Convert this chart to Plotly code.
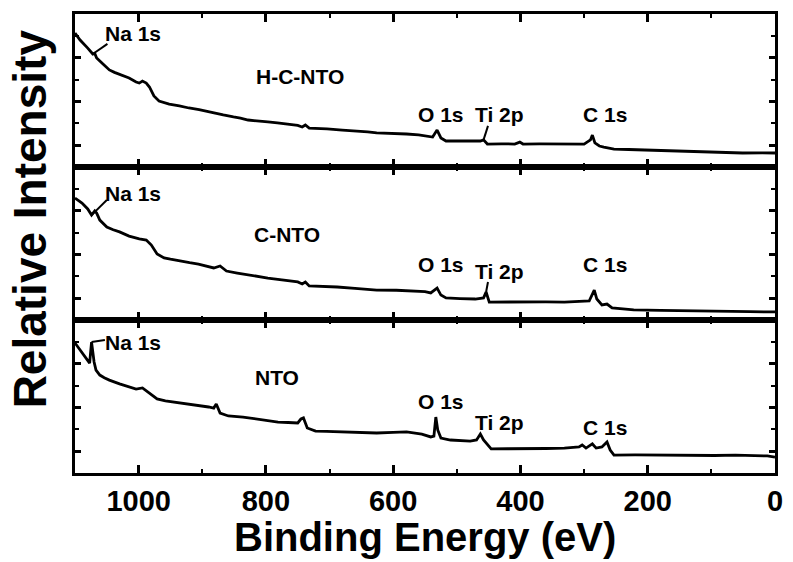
import plotly.graph_objects as go

# ---------------- data ----------------
ev_hcnto = [1100, 1092, 1080, 1072, 1069, 1066, 1056, 1046, 1038, 1030, 1022, 1015, 1004, 999, 994, 988,
            983, 976, 968, 960, 952, 936, 921, 905, 890, 877, 867, 851, 840, 828, 812, 797, 782, 766, 750,
            743, 738, 732, 718, 704, 680, 657, 640, 626, 600, 579, 560, 548, 538, 531, 525, 517, 500, 486,
            463, 458, 452, 430, 409, 401, 396, 370, 346, 320, 300, 290, 287, 283, 276, 269, 253, 230, 207,
            170, 129, 90, 51, 20, 0]
int_hcnto = [6.13, 5.81, 5.44, 5.17, 5.20, 4.99, 4.71, 4.44, 4.33, 4.25, 4.14, 4.07, 3.89, 3.84, 3.93, 3.84,
             3.66, 3.25, 3.02, 2.95, 2.88, 2.80, 2.70, 2.63, 2.52, 2.45, 2.38, 2.29, 2.24, 2.15, 2.12, 2.06,
             2.02, 1.97, 1.90, 1.83, 1.92, 1.78, 1.77, 1.74, 1.69, 1.65, 1.61, 1.56, 1.55, 1.51, 1.47, 1.42,
             1.37, 1.69, 1.33, 1.19, 1.20, 1.19, 1.19, 1.24, 1.05, 1.06, 1.05, 1.14, 1.05, 1.06, 1.05, 1.04,
             1.05, 1.24, 1.46, 1.10, 0.96, 0.91, 0.82, 0.80, 0.78, 0.74, 0.69, 0.67, 0.64, 0.65, 0.64]

ev_cnto = [1100, 1089, 1080, 1074, 1069, 1066, 1061, 1050, 1040, 1030, 1015, 999, 988, 980, 971, 960,
           950, 937, 920, 906, 890, 882, 872, 862, 845, 828, 812, 797, 775, 750, 743, 738, 732, 710, 688,
           660, 626, 595, 564, 550, 541, 531, 525, 517, 495, 471, 458, 454, 449, 420, 393, 360, 331, 300,
           292, 284, 280, 272, 264, 256, 240, 222, 180, 129, 80, 40, 0]
int_cnto = [5.58, 5.35, 5.08, 4.80, 4.99, 4.89, 4.57, 4.25, 4.13, 4.03, 3.84, 3.71, 3.66, 3.43, 3.02, 2.84,
            2.78, 2.70, 2.62, 2.56, 2.45, 2.38, 2.47, 2.24, 2.15, 2.06, 1.99, 1.92, 1.84, 1.74, 1.65, 1.74,
            1.56, 1.54, 1.51, 1.45, 1.37, 1.36, 1.33, 1.30, 1.24, 1.46, 1.14, 1.01, 0.98, 0.96, 1.01, 1.28,
            0.82, 0.83, 0.82, 0.83, 0.82, 0.84, 0.87, 1.37, 0.96, 0.69, 0.73, 0.55, 0.50, 0.46, 0.44, 0.41,
            0.39, 0.38, 0.37]

ev_nto = [1100, 1092, 1083, 1077, 1074, 1070, 1067, 1061, 1054, 1046, 1030, 1019, 1004, 994, 983, 971,
          958, 945, 930, 917, 903, 890, 882, 878, 872, 859, 836, 813, 797, 781, 765, 750, 745, 741, 735,
          722, 705, 688, 660, 626, 600, 579, 555, 541, 536, 533, 530, 525, 510, 495, 479, 469, 463, 458,
          452, 446, 420, 393, 360, 331, 308, 303, 297, 287, 281, 272, 264, 259, 253, 220, 191, 160, 129,
          95, 62, 30, 12, 0]
int_nto = [5.95, 5.63, 5.26, 5.03, 5.99, 5.08, 4.71, 4.48, 4.36, 4.25, 4.08, 3.98, 3.84, 3.89, 3.66, 3.39,
           3.30, 3.25, 3.18, 3.11, 3.06, 3.02, 2.97, 3.16, 2.74, 2.61, 2.56, 2.47, 2.42, 2.33, 2.31, 2.29,
           2.47, 2.52, 2.06, 1.92, 1.90, 1.88, 1.86, 1.83, 1.86, 1.88, 1.78, 1.65, 1.69, 2.56, 1.97, 1.60,
           1.51, 1.49, 1.46, 1.51, 1.78, 1.51, 1.28, 1.10, 1.11, 1.10, 1.12, 1.14, 1.19, 1.28, 1.14, 1.33,
           1.14, 1.19, 1.42, 1.05, 0.82, 0.83, 0.82, 0.80, 0.78, 0.80, 0.82, 0.79, 0.78, 0.73]

sample_names = ["H-C-NTO", "C-NTO", "NTO"]
x_ticks = [1000, 800, 600, 400, 200, 0]

series = [(ev_hcnto, int_hcnto), (ev_cnto, int_cnto), (ev_nto, int_nto)]

FONT = "Liberation Sans, Arial, sans-serif"
fig = go.Figure()

domains = [[2/3, 1.0], [1/3, 2/3], [0.0, 1/3]]
for i, (ev, inten) in enumerate(series):
    n = "" if i == 0 else str(i + 1)
    fig.add_trace(go.Scatter(x=ev, y=inten, mode="lines",
                             line=dict(color="black", width=2.8),
                             xaxis="x" + n, yaxis="y" + n, showlegend=False,
                             hoverinfo="skip"))
    xa = dict(range=[1100, 0], domain=[0, 1], anchor="y" + n,
              showline=True, linewidth=3, linecolor="black", mirror="ticks",
              ticks="inside", ticklen=8, tickwidth=2.5, tickcolor="black",
              tickvals=x_ticks, ticktext=[str(v) for v in x_ticks],
              showticklabels=(i == 2),
              tickfont=dict(family=FONT, size=29, color="black", weight="bold"),
              ticklabelstandoff=0,
              minor=dict(ticks="inside", ticklen=4, tickwidth=2, tickcolor="black", dtick=100, tick0=0),
              showgrid=False, zeroline=False)
    if i != 0:
        xa["matches"] = "x"
    ya = dict(range=[0, 7], domain=domains[i], anchor="x" + n,
              showline=True, linewidth=3, linecolor="black", mirror="ticks",
              ticks="inside", ticklen=6, tickwidth=2.5, tickcolor="black",
              tickvals=[1, 3, 5], showticklabels=False,
              minor=dict(ticks="inside", ticklen=4, tickwidth=2, tickcolor="black", dtick=1, tick0=0),
              showgrid=False, zeroline=False)
    fig.layout["xaxis" + n] = xa
    fig.layout["yaxis" + n] = ya

annotations = []
def ann(text, x, y, n, size=21):
    annotations.append(dict(text=text, x=x, y=y, xref="x" + n, yref="y" + n,
                            showarrow=False, xanchor="center", yanchor="middle",
                            font=dict(family=FONT, size=size, color="black", weight="bold")))

# panel 1
ann("Na 1s", 1009, 6.13, "")
ann(sample_names[0], 747, 4.16, "")
ann("O 1s", 525, 2.38, "")
ann("Ti 2p", 433, 2.38, "")
ann("C 1s", 267, 2.38, "")
# panel 2
ann("Na 1s", 1009, 5.81, "2")
ann(sample_names[1], 767, 3.89, "2")
ann("O 1s", 525, 2.52, "2")
ann("Ti 2p", 433, 2.20, "2")
ann("C 1s", 267, 2.52, "2")
# panel 3
ann("Na 1s", 1009, 5.99, "3")
ann(sample_names[2], 783, 4.39, "3")
ann("O 1s", 525, 3.25, "3")
ann("Ti 2p", 433, 2.33, "3")
ann("C 1s", 267, 2.06, "3")

# axis titles
annotations.append(dict(text="Binding Energy (eV)", x=0.5, y=-0.14, xref="paper", yref="paper",
                        showarrow=False, xanchor="center", yanchor="middle",
                        font=dict(family=FONT, size=40, color="black", weight="bold")))
annotations.append(dict(text="Relative Intensity", x=-0.064, y=0.553, xref="paper", yref="paper",
                        showarrow=False, xanchor="center", yanchor="middle", textangle=-90,
                        font=dict(family=FONT, size=46, color="black", weight="bold")))

shapes = []
def leader(x0, y0, x1, y1, n):
    shapes.append(dict(type="line", x0=x0, y0=y0, x1=x1, y1=y1, xref="x" + n, yref="y" + n,
                       line=dict(color="black", width=2)))

leader(1072, 5.17, 1049, 5.63, "")
leader(458, 1.24, 451, 1.88, "")
leader(1074, 4.80, 1050, 5.49, "2")
leader(454, 1.28, 451, 1.74, "2")
leader(1074, 5.99, 1053, 6.08, "3")

fig.update_layout(width=793, height=562, margin=dict(l=75, r=10, t=14, b=89),
                  paper_bgcolor="white", plot_bgcolor="white",
                  annotations=annotations, shapes=shapes, showlegend=False)

fig.write_html("out.html")
